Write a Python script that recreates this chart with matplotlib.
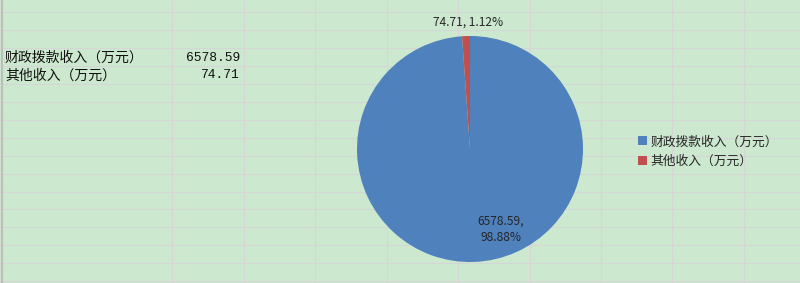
import matplotlib
matplotlib.use("Agg")
import matplotlib.pyplot as plt
import numpy as np

plt.rcParams['font.family'] = ['Noto Sans CJK SC', 'DejaVu Sans']

# 数据
categories = ['财政拨款收入（万元）', '其他收入（万元）']
values = [6578.59, 74.71]
value_text = ['6578.59', '74.71']
colors = ['#4f81bd', '#c0504d']

W, H = 800, 283
fig = plt.figure(figsize=(W / 100, H / 100), dpi=100)
fig.patch.set_facecolor('#cce8cf')

# 表格背景（像素坐标）
bg = fig.add_axes([0, 0, 1, 1])
bg.set_xlim(0, W)
bg.set_ylim(H, 0)
bg.axis('off')
for y in np.arange(12, H, 17.95):
    bg.axhline(y, color='#d6d6d6', lw=0.8)
for x in [172, 243.5, 315, 387, 458, 530, 601, 672, 744]:
    bg.axvline(x, color='#d6d6d6', lw=0.8)
bg.axvline(2, color='#bdbdbd', lw=1.5)

# 左侧单元格文字
for i, (c, v) in enumerate(zip(categories, value_text)):
    y = 58 + i * 17.5
    bg.text(5, y, c, fontsize=10, va='center', ha='left', color='#111111')
    bg.text(240, y, v, fontsize=9.3, va='center', ha='right', color='#111111',
            family=['Liberation Mono'])

# 饼图
cx, cy, r = 470, 149, 113
ax = fig.add_axes([(cx - r) / W, (H - cy - r) / H, 2 * r / W, 2 * r / H])
wedges, _ = ax.pie(values, colors=colors, startangle=90, counterclock=False,
                   wedgeprops=dict(linewidth=0))
ax.set_xlim(-1, 1)
ax.set_ylim(-1, 1)
ax.set_aspect('equal')
ax.axis('off')

total = sum(values)
pcts = [v / total * 100 for v in values]
ax.text(0.27, -0.71, f'{value_text[0]},\n{pcts[0]:.2f}%', fontsize=8.6,
        ha='center', va='center', color='#262626', linespacing=1.4)
ax.text(-0.02, 1.12, f'{value_text[1]}, {pcts[1]:.2f}%', fontsize=8.6,
        ha='center', va='center', color='#262626')

leg = fig.legend(wedges, categories, loc='upper left',
                 bbox_to_anchor=(632 / W, 1 - 129 / H), frameon=False,
                 fontsize=9.2, handlelength=0.7, handleheight=0.7,
                 handletextpad=0.25, labelspacing=0.5, borderpad=0)
for t in leg.get_texts():
    t.set_color('#262626')

fig.savefig('out.png', dpi=100, facecolor=fig.get_facecolor())
